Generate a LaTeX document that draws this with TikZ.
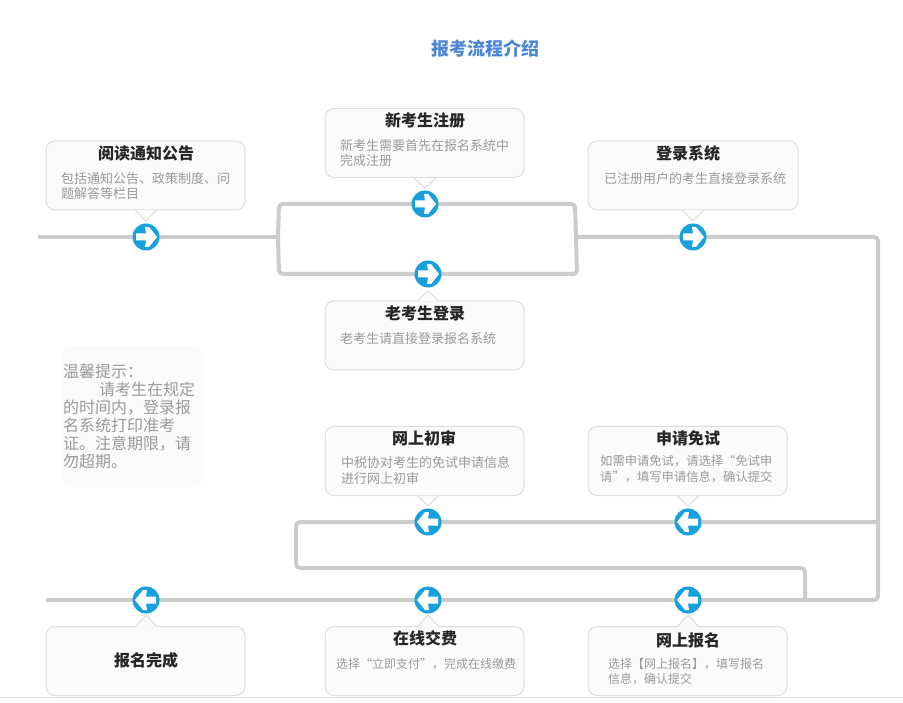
\documentclass[tikz,border=0pt]{standalone}
\usepackage{fontspec}
\setmainfont{Noto Sans CJK SC}
\usetikzlibrary{backgrounds}
\definecolor{flowline}{HTML}{CCCCCC}
\definecolor{boxedge}{HTML}{DDDDDD}
\definecolor{boxfill}{HTML}{FBFBFB}
\definecolor{badge}{HTML}{17A0DB}
\definecolor{bodygray}{HTML}{9A9A9A}
\definecolor{headdark}{HTML}{262626}
\definecolor{titleblue}{HTML}{4A86D8}
\tikzset{
  x=1pt,y=-1pt,
  callbox/.style={draw=boxedge,line width=1pt,fill=boxfill,rounded corners=9pt,minimum width=199pt,minimum height=69pt,inner sep=0pt},
  headtext/.style={font=\fontsize{16}{18}\selectfont\bfseries,text=headdark,inner sep=0pt},
  bodytext/.style={font=\fontsize{13}{15.6}\selectfont,text=bodygray,inner sep=0pt,anchor=north west,align=left},
  smalltext/.style={bodytext,font=\fontsize{12}{15.6}\selectfont},
  midtext/.style={bodytext,font=\fontsize{12.3}{15.6}\selectfont},
  flow/.style={draw=flowline,line width=4pt,rounded corners=4pt},
  badgenode/.style={circle,fill=badge,minimum size=27pt,inner sep=0pt},
  tipedge/.style={draw=boxedge,line width=1pt},
}
% pointer of a callout: x of tip, y of box edge, y of tip
\newcommand{\calltip}[3]{%
  \fill[boxfill] (#1-11,#2) -- (#1,#3) -- (#1+11,#2) -- cycle;
  \draw[tipedge] (#1-11,#2) -- (#1,#3) -- (#1+11,#2);
}
\newcommand{\rightbadge}[3]{%
  \node[badgenode] (#1) at (#2,#3) {};
  \fill[white] (#2-10,#3-3.5) -- (#2,#3-3.5) -- (#2-1,#3-10) -- (#2+3,#3-10) -- (#2+11,#3) -- (#2+3,#3+10) -- (#2-1,#3+10) -- (#2,#3+3.5) -- (#2-10,#3+3.5) -- cycle;
}
\newcommand{\leftbadge}[3]{%
  \node[badgenode] (#1) at (#2,#3) {};
  \fill[white] (#2+10,#3-3.5) -- (#2,#3-3.5) -- (#2+1,#3-10) -- (#2-3,#3-10) -- (#2-11,#3) -- (#2-3,#3+10) -- (#2+1,#3+10) -- (#2,#3+3.5) -- (#2+10,#3+3.5) -- cycle;
}
\begin{document}
\begin{tikzpicture}
\useasboundingbox (0,0) rectangle (903,703);
\draw[draw=black!13,line width=1pt] (0,697) -- (903,697);

\node[font=\fontsize{18}{20}\selectfont\bfseries,text=titleblue,inner sep=0pt] (title) at (485,49) {报考流程介绍};

% callouts
\node[callbox] (readbox) at (145.5,175.5) {};
\calltip{146}{210}{221}
\node[callbox] (newbox) at (424.5,143) {};
\calltip{425}{178}{188}
\node[callbox,minimum width=210pt] (loginbox) at (693,175.5) {};
\calltip{693}{210}{221}
\node[callbox] (oldbox) at (424.5,335.5) {};
\calltip{428}{301}{291}
\node[callbox] (reviewbox) at (424.5,461) {};
\calltip{428}{495.5}{506}
\node[callbox] (exemptbox) at (687.5,461) {};
\calltip{688}{495.5}{506}
\node[callbox] (donebox) at (145.5,661) {};
\calltip{146}{627}{615}
\node[callbox] (paybox) at (424.5,661) {};
\calltip{428}{627}{615}
\node[callbox] (applybox) at (687.5,661) {};
\calltip{688}{627}{615}

% headings
\node[headtext] (readhead) at (146,153) {阅读通知公告};
\node[headtext] (newhead) at (425,120) {新考生注册};
\node[headtext] (loginhead) at (688,153) {登录系统};
\node[headtext] (oldhead) at (425,313) {老考生登录};
\node[headtext] (reviewhead) at (424,438) {网上初审};
\node[headtext] (exempthead) at (688,438) {申请免试};
\node[headtext] (donehead) at (146,660) {报名完成};
\node[headtext] (payhead) at (425,638) {在线交费};
\node[headtext] (applyhead) at (688,640) {网上报名};

% body texts
\node[bodytext] (readbody) at (61,172) {包括通知公告、政策制度、问\\题解答等栏目};
\node[bodytext] (newbody) at (340,139) {新考生需要首先在报名系统中\\完成注册};
\node[bodytext] (loginbody) at (604,172) {已注册用户的考生直接登录系统};
\node[bodytext] (oldbody) at (340,332) {老考生请直接登录报名系统};
\node[bodytext] (reviewbody) at (341,456.5) {中税协对考生的免试申请信息\\进行网上初审};
\node[midtext] (exemptbody) at (600,455) {如需申请免试，请选择“免试申\\请”，填写申请信息，确认提交};
\node[smalltext] (paybody) at (336,658) {选择“立即支付”，完成在线缴费};
\node[smalltext] (applybody) at (608,658) {选择【网上报名】，填写报名\\信息，确认提交};

% notice
\fill[boxfill] (62,346) [rounded corners=9pt] rectangle (203,487);
\node[font=\fontsize{16}{18}\selectfont,text=bodygray,inner sep=0pt,anchor=north west,align=left] (notice) at (63,364) {温馨提示：\\\hspace*{36pt}请考生在规定\\的时间内，登录报\\名系统打印准考\\证。注意期限，请\\勿超期。};

% badges
\rightbadge{b1}{146}{237}
\rightbadge{b2}{425}{204}
\rightbadge{b3}{428}{274}
\rightbadge{b4}{693}{237}
\leftbadge{b5}{428}{522}
\leftbadge{b6}{688}{522}
\leftbadge{b7}{146}{600}
\leftbadge{b8}{428}{600}
\leftbadge{b9}{688}{600}

% junctions and free ends
\coordinate (startL) at (38,237);
\coordinate (splitL) at (278,237);
\coordinate (splitR) at (576,237);
\coordinate (cornerTR) at (878,237);
\coordinate (cornerBR) at (878,600);
\coordinate (endL) at (46,600);
\coordinate (joinR) at (878,522);
\coordinate (loopTL) at (296,522);
\coordinate (loopBL) at (296,568);
\coordinate (loopBR) at (805,568);
\coordinate (loopEnd) at (805,600);

\begin{pgfonlayer}{background}
\draw[flow] (startL) -- (b1.center) -- (splitL);
\draw[flow] (splitL) -- (279,204) -- (b2.center) -- (575,204) -- (splitR);
\draw[flow] (splitL) -- (279,274) -- (b3.center) -- (577,274) -- (splitR);
\draw[flow] (splitR) -- (b4.center) -- (cornerTR) -- (cornerBR) -- (b9.center) -- (b8.center) -- (b7.center) -- (endL);
\draw[flow] (joinR) -- (b6.center) -- (b5.center) -- (loopTL) -- (loopBL) -- (loopBR) -- (loopEnd);
\end{pgfonlayer}
\end{tikzpicture}
\end{document}
